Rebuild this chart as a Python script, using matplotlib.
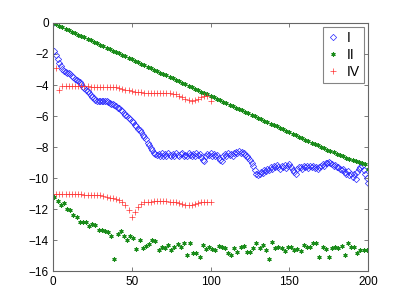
import matplotlib
matplotlib.use('Agg')
import matplotlib.pyplot as plt

plt.rcParams['font.family'] = ['Liberation Sans', 'DejaVu Sans']

# serie I (diamantes azules), x = 0..200
x_I = list(range(0, 201))
y_I = [0.0, -1.8, -2.05, -2.35, -2.6, -2.8, -2.95, -3.1, -3.15, -3.2,
       -3.25, -3.3, -3.4, -3.5, -3.6, -3.65, -3.75, -3.8, -3.95, -4.1,
       -4.2, -4.3, -4.4, -4.5, -4.65, -4.75, -4.85, -4.95, -5.0, -5.05,
       -5.05, -5.05, -5.05, -5.05, -5.05, -5.1, -5.15, -5.2, -5.25, -5.3,
       -5.35, -5.45, -5.5, -5.6, -5.7, -5.8, -5.9, -6.0, -6.1, -6.2,
       -6.3, -6.4, -6.55, -6.65, -6.8, -6.9, -7.05, -7.2, -7.35, -7.5,
       -7.7, -7.85, -8.05, -8.2, -8.35, -8.45, -8.5, -8.45, -8.6, -8.4,
       -8.55, -8.45, -8.6, -8.4, -8.5, -8.6, -8.45, -8.55, -8.4, -8.5,
       -8.6, -8.45, -8.4, -8.55, -8.5, -8.6, -8.4, -8.5, -8.55, -8.45,
       -8.6, -8.4, -8.5, -8.45, -8.65, -8.8, -8.9, -8.6, -8.45, -8.5,
       -8.4, -8.55, -8.45, -8.6, -8.5, -8.7, -8.85, -8.9, -8.6, -8.45,
       -8.55, -8.4, -8.5, -8.45, -8.6, -8.4, -8.3, -8.35, -8.25, -8.35,
       -8.3, -8.4, -8.5, -8.6, -8.7, -8.85, -9.0, -9.2, -9.45, -9.7,
       -9.8, -9.75, -9.6, -9.65, -9.5, -9.55, -9.4, -9.5, -9.3, -9.4,
       -9.2, -9.3, -9.15, -9.3, -9.4, -9.2, -9.3, -9.15, -9.35, -9.2,
       -9.1, -9.3, -9.45, -9.6, -9.7, -9.4, -9.3, -9.25, -9.4, -9.2,
       -9.3, -9.2, -9.35, -9.2, -9.3, -9.2, -9.35, -9.25, -9.4, -9.3,
       -9.2, -9.1, -9.2, -9.05, -9.0, -8.95, -9.0, -9.1, -9.2, -9.15,
       -9.3, -9.25, -9.4, -9.5, -9.4, -9.6, -9.7, -9.55, -9.8, -9.7,
       -9.9, -9.75, -10.05, -9.6, -9.4, -9.3, -9.2, -9.5, -9.7, -10.0,
       -10.3]

# serie II, rama superior (x par) y rama inferior (x impar)
x_II_a = list(range(0, 201, 2))
y_II_a = [0.0, -0.09, -0.19, -0.28, -0.38, -0.47, -0.56, -0.66, -0.75, -0.85,
          -0.94, -1.03, -1.13, -1.22, -1.32, -1.41, -1.50, -1.60, -1.69, -1.79,
          -1.88, -1.97, -2.07, -2.16, -2.26, -2.35, -2.44, -2.54, -2.63, -2.73,
          -2.82, -2.91, -3.01, -3.10, -3.20, -3.29, -3.38, -3.48, -3.57, -3.67,
          -3.76, -3.85, -3.95, -4.04, -4.14, -4.23, -4.32, -4.42, -4.51, -4.61,
          -4.70, -4.79, -4.89, -4.98, -5.08, -5.17, -5.26, -5.36, -5.45, -5.55,
          -5.64, -5.73, -5.83, -5.92, -6.02, -6.11, -6.20, -6.30, -6.39, -6.49,
          -6.58, -6.67, -6.77, -6.86, -6.96, -7.05, -7.14, -7.24, -7.33, -7.43,
          -7.52, -7.61, -7.71, -7.80, -7.89, -7.98, -8.07, -8.16, -8.25, -8.34,
          -8.43, -8.52, -8.60, -8.68, -8.76, -8.83, -8.90, -8.96, -9.01, -9.06,
          -9.40]
x_II_b = list(range(1, 200, 2))
y_II_b = [-11.2, -11.45, -11.75, -11.6, -11.95, -12.05, -12.35, -12.5, -12.8, -12.8,
          -12.8, -13.05, -12.95, -13.0, -13.3, -13.35, -13.4, -13.45, -13.75, -15.2,
          -13.6, -13.4, -13.75, -14.0, -13.75, -13.85, -14.55, -14.0, -14.5, -14.35,
          -14.25, -13.95, -14.05, -14.6, -14.45, -14.5, -14.3, -14.6, -14.4, -14.25,
          -14.4, -14.2, -14.95, -14.2, -14.8, -14.8, -15.05, -14.3, -14.55, -14.45,
          -14.55, -14.6, -14.35, -14.4, -14.5, -14.8, -14.95, -14.5, -14.75, -14.45,
          -14.35, -14.75, -14.75, -14.5, -14.2, -14.5, -14.3, -14.6, -15.2, -14.1,
          -14.5, -14.4, -14.5, -14.7, -14.45, -14.45, -14.65, -14.55, -14.7, -14.3,
          -14.45, -14.45, -14.2, -14.2, -15.05, -14.45, -14.55, -15.05, -14.5, -14.45,
          -14.5, -14.35, -14.95, -14.2, -14.45, -14.4, -14.8, -14.6, -14.65, -14.65]

# serie IV, dos ramas de x = 0..100
x_IV = list(range(0, 101, 2))
y_IV_a = [0.0, -2.9, -4.3, -4.05, -4.05, -4.05, -4.05, -4.05, -4.05, -4.08,
          -4.08, -4.08, -4.1, -4.1, -4.1, -4.1, -4.12, -4.12, -4.15, -4.15,
          -4.15, -4.2, -4.25, -4.3, -4.35, -4.4, -4.42, -4.45, -4.48, -4.5,
          -4.52, -4.52, -4.52, -4.52, -4.52, -4.5, -4.5, -4.52, -4.55, -4.6,
          -4.7, -4.78, -4.88, -4.95, -5.0, -4.98, -4.9, -4.8, -4.7, -4.7,
          -5.0]
y_IV_b = [-11.0, -11.0, -11.0, -11.0, -11.0, -11.0, -11.0, -11.0, -11.02, -11.02,
          -11.05, -11.05, -11.05, -11.08, -11.1, -11.1, -11.15, -11.2, -11.25, -11.3,
          -11.35, -11.42, -11.55, -11.7, -12.05, -12.5, -12.2, -11.85, -11.65, -11.55,
          -11.5, -11.5, -11.45, -11.45, -11.45, -11.45, -11.45, -11.5, -11.5, -11.55,
          -11.6, -11.65, -11.7, -11.75, -11.7, -11.65, -11.6, -11.55, -11.5, -11.5,
          -11.5]

fig = plt.figure(figsize=(4.07, 3.05), dpi=100)
ax = fig.add_axes([0.13, 0.11, 0.775, 0.815])

azul = (0.15, 0.15, 1)
verde = (0.1, 0.55, 0.1)
rojo = (1, 0.2, 0.2)

ax.plot(x_I, y_I, linestyle='none', marker='D', markersize=3.2,
        markerfacecolor='none', markeredgecolor=azul, markeredgewidth=0.5, label='I')
ax.plot(x_II_a, y_II_a, linestyle='none', marker=(6, 2, 0), markersize=3.0,
        color=verde, markeredgewidth=0.8, label='II')
ax.plot(x_II_b, y_II_b, linestyle='none', marker=(6, 2, 0), markersize=3.0,
        color=verde, markeredgewidth=0.8)
ax.plot(x_IV, y_IV_a, linestyle='none', marker='+', markersize=4.0,
        color=rojo, markeredgewidth=0.5, label='IV')
ax.plot(x_IV, y_IV_b, linestyle='none', marker='+', markersize=4.0,
        color=rojo, markeredgewidth=0.5)

ax.set_xlim(0, 200)
ax.set_ylim(-16, 0)
ax.set_xticks([0, 50, 100, 150, 200])
ax.set_yticks(list(range(-16, 1, 2)))
ax.tick_params(direction='in', top=True, right=True, length=3, width=0.6,
               color='0.4', labelsize=8.5, pad=3)
for s in ax.spines.values():
    s.set_color('0.4')
    s.set_linewidth(0.8)

leg = ax.legend(loc='upper right', fontsize=10, frameon=True, fancybox=False,
                handlelength=0.8, handletextpad=0.6, borderpad=0.3,
                labelspacing=0.2, borderaxespad=0.3, markerscale=1.0)
leg.get_frame().set_edgecolor('0.4')
leg.get_frame().set_linewidth(0.8)

fig.savefig('out.png', dpi=100)
